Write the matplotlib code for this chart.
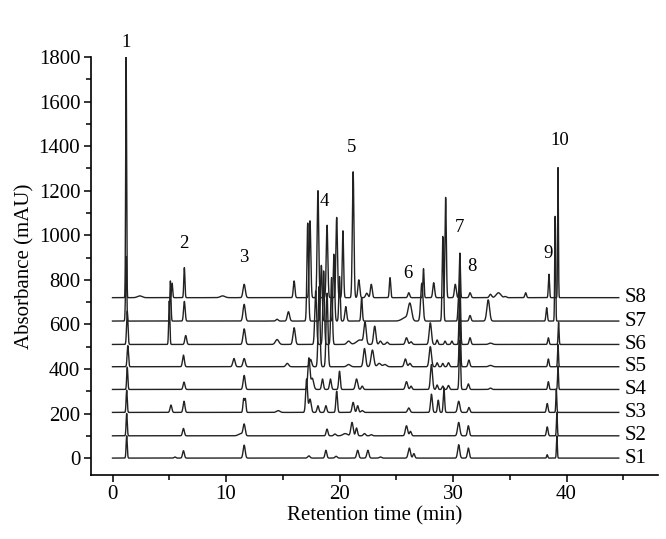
import numpy as np
import matplotlib
matplotlib.use("Agg")
import matplotlib.pyplot as plt
from matplotlib.ticker import MultipleLocator

# ---- data: peaks (retention time min, height mAU, width min)
samples = ["S1", "S2", "S3", "S4", "S5", "S6", "S7", "S8"]
offsets = [0, 100, 205, 308, 410, 510, 615, 720]

S1_peaks = [(1.25, 100, 0.05), (5.5, 5, 0.08), (6.25, 33, 0.08), (11.6, 58, 0.09),
            (17.3, 10, 0.1), (18.8, 35, 0.08), (19.7, 8, 0.1), (21.6, 35, 0.09),
            (22.5, 35, 0.09), (23.6, 5, 0.1), (26.15, 45, 0.1), (26.55, 20, 0.08),
            (30.5, 60, 0.09), (31.35, 45, 0.08), (38.3, 15, 0.05), (39.15, 100, 0.04)]
S2_peaks = [(1.25, 100, 0.05), (6.25, 33, 0.08), (11.3, 10, 0.2), (11.6, 50, 0.09),
            (18.9, 30, 0.08), (19.6, 8, 0.1), (20.5, 10, 0.2), (21.1, 60, 0.1),
            (21.5, 35, 0.08), (22.2, 10, 0.1), (22.8, 5, 0.1), (25.9, 45, 0.1),
            (26.25, 20, 0.08), (30.5, 60, 0.1), (31.35, 45, 0.08), (38.3, 40, 0.07),
            (39.15, 105, 0.04)]
S3_peaks = [(1.25, 100, 0.05), (5.15, 33, 0.08), (6.3, 50, 0.08), (11.55, 60, 0.06),
            (11.7, 60, 0.06), (14.6, 8, 0.15), (17.1, 150, 0.08), (17.4, 60, 0.1),
            (18.1, 30, 0.08), (18.8, 30, 0.08), (19.75, 95, 0.07), (21.2, 45, 0.09),
            (21.6, 30, 0.08), (22.0, 8, 0.1), (26.1, 20, 0.1), (28.1, 82, 0.08),
            (28.7, 55, 0.07), (29.2, 110, 0.06), (30.5, 50, 0.1), (31.4, 22, 0.08),
            (38.3, 40, 0.07), (39.1, 105, 0.04)]
S4_peaks = [(1.3, 100, 0.05), (6.3, 33, 0.08), (11.6, 63, 0.09), (17.3, 140, 0.09),
            (17.6, 50, 0.12), (18.5, 47, 0.08), (19.2, 47, 0.08), (20.0, 82, 0.07),
            (21.5, 47, 0.1), (22.0, 15, 0.08), (25.9, 35, 0.1), (26.3, 15, 0.08),
            (28.1, 112, 0.09), (28.6, 20, 0.07), (29.1, 15, 0.07), (29.6, 18, 0.08),
            (30.6, 220, 0.06), (31.35, 25, 0.08), (33.3, 6, 0.1), (38.4, 35, 0.06),
            (39.25, 105, 0.04)]
S5_peaks = [(1.35, 95, 0.06), (6.25, 52, 0.08), (10.7, 37, 0.1), (11.6, 37, 0.1),
            (15.4, 15, 0.12), (17.45, 33, 0.1), (18.2, 360, 0.08), (18.9, 330, 0.08),
            (20.8, 10, 0.15), (22.2, 82, 0.1), (22.9, 75, 0.12), (23.5, 15, 0.15),
            (24.0, 10, 0.15), (25.8, 35, 0.1), (26.2, 15, 0.1), (28.0, 90, 0.1),
            (28.6, 18, 0.07), (29.1, 15, 0.07), (29.6, 18, 0.08), (30.6, 240, 0.06),
            (31.4, 30, 0.08), (33.3, 6, 0.15), (38.4, 35, 0.06), (39.25, 100, 0.04)]
S6_peaks = [(1.3, 150, 0.06), (5.0, 195, 0.05), (6.45, 40, 0.08), (11.6, 70, 0.1),
            (14.5, 22, 0.15), (16.0, 75, 0.1), (17.9, 240, 0.08), (18.6, 330, 0.07),
            (19.3, 300, 0.07), (20.8, 15, 0.15), (21.8, 20, 0.3), (22.25, 95, 0.1),
            (23.1, 82, 0.1), (23.6, 15, 0.1), (24.2, 10, 0.1), (25.9, 30, 0.1),
            (26.3, 12, 0.1), (28.0, 97, 0.1), (28.6, 20, 0.07), (29.3, 15, 0.07),
            (29.9, 15, 0.07), (30.6, 300, 0.06), (31.5, 30, 0.08), (33.3, 6, 0.15),
            (38.4, 30, 0.06), (39.3, 100, 0.04)]
S7_peaks = [(1.2, 290, 0.05), (5.1, 180, 0.05), (6.33, 88, 0.07), (11.6, 75, 0.1),
            (14.5, 8, 0.1), (15.5, 42, 0.1), (17.2, 440, 0.07), (18.4, 250, 0.07),
            (19.5, 300, 0.07), (20.0, 200, 0.06), (20.55, 65, 0.08), (21.95, 105, 0.06),
            (25.8, 15, 0.3), (26.2, 75, 0.15), (27.25, 170, 0.1), (29.1, 380, 0.06),
            (30.5, 120, 0.06), (31.5, 25, 0.08), (33.1, 95, 0.12), (38.25, 60, 0.06),
            (39.0, 470, 0.04)]
S8_peaks = [(1.2, 1080, 0.04), (2.4, 8, 0.2), (5.25, 65, 0.05), (6.33, 135, 0.05),
            (9.7, 8, 0.2), (11.6, 60, 0.1), (16.0, 75, 0.07), (17.4, 345, 0.07),
            (18.1, 480, 0.07), (18.9, 325, 0.07), (19.75, 360, 0.07), (20.3, 300, 0.06),
            (21.2, 565, 0.07), (21.7, 80, 0.08), (22.4, 20, 0.1), (22.8, 60, 0.08),
            (24.45, 90, 0.06), (26.1, 22, 0.08), (27.4, 130, 0.05), (28.3, 67, 0.08),
            (29.35, 450, 0.06), (30.2, 60, 0.08), (30.6, 200, 0.05), (31.5, 22, 0.08),
            (33.3, 15, 0.1), (34.0, 22, 0.2), (34.6, 5, 0.1), (36.4, 22, 0.07),
            (38.45, 105, 0.05), (39.25, 585, 0.035)]
all_peaks = [S1_peaks, S2_peaks, S3_peaks, S4_peaks, S5_peaks, S6_peaks, S7_peaks, S8_peaks]

peak_labels = ["1", "2", "3", "4", "5", "6", "7", "8", "9", "10"]
label_rt = [1.2, 6.3, 11.6, 18.7, 21.1, 26.0, 30.55, 31.7, 38.4, 39.4]
label_y = [1865, 964, 901, 1150, 1395, 829, 1037, 861, 918, 1426]

t_end = 44.6

# ---- figure
plt.rcParams['font.family'] = ['Liberation Serif', 'DejaVu Serif']
fig = plt.figure(figsize=(6.66, 5.39), dpi=100)
ax = fig.add_axes([0.1362, 0.1187, 0.8518, 0.7755])

t = np.linspace(0, t_end, 9000)
for name, base, peaks in zip(samples, offsets, all_peaks):
    y = np.full_like(t, float(base))
    for rt, h, w in peaks:
        y += h * np.exp(-0.5 * ((t - rt) / w) ** 2)
    ax.plot(t, y, color='#222222', lw=1.0)
    ax.text(45.15, base, name, fontsize=15, ha='left', va='center')

for lab, x, yy in zip(peak_labels, label_rt, label_y):
    ax.text(x, yy, lab, fontsize=13.5, ha='center', va='center', clip_on=False)

ax.set_xlim(-1.92, 48.06)
ax.set_ylim(-76, 1800)
ax.spines['top'].set_visible(False)
ax.spines['right'].set_visible(False)
for s in ('left', 'bottom'):
    ax.spines[s].set_linewidth(1.2)
ax.xaxis.set_major_locator(MultipleLocator(10))
ax.xaxis.set_minor_locator(MultipleLocator(5))
ax.yaxis.set_major_locator(MultipleLocator(200))
ax.yaxis.set_minor_locator(MultipleLocator(100))
ax.set_xticks([0, 10, 20, 30, 40])
ax.tick_params(which='major', direction='out', length=5, width=1.1, labelsize=15, pad=2.5)
ax.tick_params(which='minor', direction='out', length=3.5, width=1.1)
ax.set_xlabel('Retention time (min)', fontsize=15, labelpad=1)
ax.set_ylabel('Absorbance (mAU)', fontsize=15, labelpad=3)

fig.savefig('out.png', dpi=100)
